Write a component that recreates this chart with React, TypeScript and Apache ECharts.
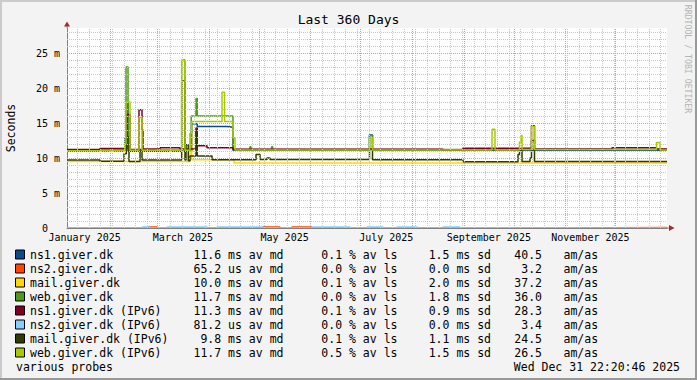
import React, { useEffect, useRef } from 'react';
import * as echarts from 'echarts';

// x values are days since 2025-01-01 00:00 (local), y values are milliseconds
const GRAPH_START = 4.93;
const GRAPH_END = 364.93;
const Y_MAX = 200 / 7;

const seriesNames = [
  'ns1.giver.dk', 'ns2.giver.dk', 'mail.giver.dk', 'web.giver.dk',
  'ns1.giver.dk (IPv6)', 'ns2.giver.dk (IPv6)', 'mail.giver.dk (IPv6)', 'web.giver.dk (IPv6)',
];
const seriesColors = ['#0c4a8c', '#ff4500', '#ffd700', '#4f9a1b', '#800024', '#87cefa', '#313d00', '#a8c800'];

const ns1Data = [
  [4.93, 10.95], [39.73, 12.9], [40.93, 17.9], [41.53, 10.95], [79.75, 14.9], [83.1, 14.5],
  [100.93, 14.4], [104.53, 11.1], [186.43, 13.3], [188.23, 11.1], [364.93, 11.1],
];
const ns2Data = [
  [4.93, 0], [53.5, 0.15], [58.9, 0], [122.5, 0.15], [132.7, 0], [139.9, 0.15], [151.9, 0],
  [298.0, 0.07], [364.93, 0.07],
];
const mailData = [
  [4.93, 9.5], [78.73, 13.5], [79.75, 9.75], [105.13, 9.3], [364.93, 9.35],
];
const webData = [
  [4.93, 11.15], [39.73, 12.5], [40.33, 23.0], [41.53, 11.15], [73.75, 24.0], [75.73, 11.15],
  [79.45, 16.0], [82.33, 18.5], [83.1, 16.0], [104.53, 11.2], [114.7, 11.6], [115.3, 11.2],
  [127.7, 11.6], [128.3, 11.2], [186.43, 13.2], [188.23, 11.2], [364.93, 11.2],
];
const ns1v6Data = [
  [4.93, 11.2], [24.73, 11.35], [40.93, 16.2], [42.73, 11.2], [48.13, 16.9], [49.93, 14.0],
  [50.53, 11.3], [60.73, 11.45], [72.73, 11.3], [82.33, 14.3], [83.1, 11.75], [88.93, 11.45],
  [104.53, 11.25], [230.53, 11.1], [242.53, 11.4], [283.63, 14.6], [285.43, 11.3],
  [331.93, 11.45], [358.63, 11.3], [364.93, 11.3],
];
const ns2v6Data = [
  [4.93, 0], [50.0, 0.15], [54.7, 0], [65.0, 0.15], [89.0, 0], [95.0, 0.15], [122.5, 0],
  [151.9, 0.15], [174.7, 0], [184.9, 0.15], [194.5, 0], [202.9, 0.15], [214.9, 0],
  [230.5, 0.15], [240.7, 0], [364.93, 0],
];
const mailv6Data = [
  [4.93, 9.72], [24.73, 9.52], [39.13, 10.6], [40.53, 13.0], [42.13, 9.5], [48.73, 11.2],
  [49.93, 9.72], [73.75, 21.0], [75.73, 9.72], [76.33, 11.9], [77.7, 9.6], [78.73, 10.3],
  [82.33, 14.0], [83.1, 10.3], [91.93, 9.75], [118.33, 10.5], [120.73, 9.8], [124.93, 10.0],
  [126.73, 9.8], [186.43, 11.3], [188.23, 9.75], [242.53, 9.45], [275.53, 10.5], [276.43, 11.2],
  [277.93, 9.5], [282.73, 10.0], [283.63, 12.5], [285.43, 9.5], [364.93, 9.5],
];
const webv6Data = [
  [4.93, 11.05], [39.73, 12.0], [40.33, 18.0], [42.73, 11.1], [48.13, 15.8], [49.93, 11.1],
  [73.75, 23.9], [75.73, 11.1], [78.73, 13.5], [79.75, 15.2], [97.93, 19.4], [99.43, 15.2],
  [104.53, 12.9], [105.73, 11.15], [186.43, 12.9], [188.23, 11.15], [259.93, 14.1], [261.73, 11.15],
  [276.43, 12.3], [277.33, 13.2], [277.93, 11.2], [283.63, 14.5], [285.43, 11.2], [358.63, 12.2],
  [360.73, 11.15], [364.93, 11.15],
];
const seriesData = [ns1Data, ns2Data, mailData, webData, ns1v6Data, ns2v6Data, mailv6Data, webv6Data];

// legend statistics
const statMedian = ['11.6 ms av md', '65.2 us av md', '10.0 ms av md', '11.7 ms av md', '11.3 ms av md', '81.2 us av md', '9.8 ms av md', '11.7 ms av md'];
const statLoss = ['0.1 % av ls', '0.0 % av ls', '0.1 % av ls', '0.0 % av ls', '0.1 % av ls', '0.0 % av ls', '0.1 % av ls', '0.5 % av ls'];
const statSd = ['1.5 ms sd', '0.0 ms sd', '2.0 ms sd', '1.8 ms sd', '0.9 ms sd', '0.0 ms sd', '1.1 ms sd', '1.5 ms sd'];
const statAmas = ['40.5', '3.2', '37.2', '36.0', '28.3', '3.4', '24.5', '26.5'];

// axes / grid
const monthStarts = [31, 59, 90, 120, 151, 181, 212, 243, 273, 304, 334];
const monthLabelValues = [15.5, 74.5, 135.5, 196.5, 258, 319];
const monthLabels = ['January 2025', 'March 2025', 'May 2025', 'July 2025', 'September 2025', 'November 2025'];
const firstSunday = 11;

const FONT = "'DejaVu Sans Mono', monospace";

export default function App() {
  const ref = useRef<HTMLDivElement>(null);
  useEffect(() => {
    const chart = echarts.init(ref.current!, null, { renderer: 'svg' });

    const weekLines: number[] = [];
    for (let d = firstSunday; d < GRAPH_END; d += 7) weekLines.push(d);
    const minorY: number[] = [];
    const majorY: number[] = [];
    for (let v = 1; v < Y_MAX; v++) (v % 5 === 0 ? majorY : minorY).push(v);

    const minorStyle = { color: '#c8c8c8', type: [1, 1], width: 1 };
    const majorStyle = { color: '#f09090', type: [1, 1], width: 1 };

    const gridSeries: any = {
      type: 'line', data: [], z: 1, silent: true,
      markLine: {
        silent: true, symbol: ['none', 'none'], label: { show: false }, animation: false,
        emphasis: { disabled: true },
        data: [
          ...weekLines.map((d) => ({ xAxis: d, lineStyle: minorStyle })),
          ...minorY.map((v) => ({ yAxis: v, lineStyle: minorStyle })),
          ...monthStarts.map((d) => ({ xAxis: d, lineStyle: majorStyle })),
          ...majorY.map((v) => ({ yAxis: v, lineStyle: majorStyle })),
        ],
      },
    };

    const dataSeries = seriesData.map((d, i) => ({
      type: 'line', name: seriesNames[i], data: d, step: 'end', symbol: 'none', showSymbol: false,
      lineStyle: { color: seriesColors[i], width: 1.5 }, itemStyle: { color: seriesColors[i] },
      z: 2, silent: true, animation: false,
    }));

    const graphic: any[] = [];
    // frame shading
    graphic.push({ type: 'rect', shape: { x: 0, y: 0, width: 697, height: 2 }, style: { fill: '#cbcbcb' } });
    graphic.push({ type: 'rect', shape: { x: 0, y: 0, width: 2, height: 380 }, style: { fill: '#cbcbcb' } });
    graphic.push({ type: 'rect', shape: { x: 0, y: 378, width: 697, height: 2 }, style: { fill: '#999999' } });
    graphic.push({ type: 'rect', shape: { x: 695, y: 0, width: 2, height: 380 }, style: { fill: '#999999' } });
    // axis arrows
    graphic.push({ type: 'line', shape: { x1: 67, y1: 28, x2: 67, y2: 25 }, style: { stroke: '#808080', lineWidth: 1 } });
    graphic.push({ type: 'polygon', shape: { points: [[64, 26.5], [70, 26.5], [67, 21.5]] }, style: { fill: '#a52a2a' } });
    graphic.push({ type: 'line', shape: { x1: 667, y1: 228, x2: 670, y2: 228 }, style: { stroke: '#808080', lineWidth: 1 } });
    graphic.push({ type: 'polygon', shape: { points: [[669, 225], [669, 231], [674.5, 228]] }, style: { fill: '#a52a2a' } });
    // title and side labels
    graphic.push({ type: 'text', x: 348.5, y: 19.5, style: { text: 'Last 360 Days', fontFamily: FONT, fontSize: 13, fill: '#000', align: 'center', verticalAlign: 'middle' } });
    graphic.push({ type: 'text', x: 10.5, y: 128, rotation: Math.PI / 2, style: { text: 'Seconds', fontFamily: FONT, fontSize: 11.5, fill: '#000', align: 'center', verticalAlign: 'middle' } });
    graphic.push({ type: 'text', x: 688, y: 59, rotation: -Math.PI / 2, style: { text: 'RRDTOOL / TOBI OETIKER', fontFamily: FONT, fontSize: 8.2, fill: '#b4b4b4', align: 'center', verticalAlign: 'middle' } });
    // legend
    seriesNames.forEach((name, i) => {
      const cy = 254.5 + 14 * i;
      graphic.push({ type: 'rect', shape: { x: 15.5, y: cy - 4.5, width: 9, height: 9 }, style: { fill: seriesColors[i], stroke: '#000', lineWidth: 1 } });
      const txt = (text: string, x: number, align: string) => ({
        type: 'text', x, y: cy, style: { text, fontFamily: FONT, fontSize: 11.5, fill: '#000', align, verticalAlign: 'middle' },
      });
      graphic.push(txt(name, 30, 'left'));
      graphic.push(txt(statMedian[i], 283.5, 'right'));
      graphic.push(txt(statLoss[i], 397.5, 'right'));
      graphic.push(txt(statSd[i], 491, 'right'));
      graphic.push(txt(statAmas[i], 542, 'right'));
      graphic.push(txt('am/as', 563.5, 'left'));
    });
    graphic.push({ type: 'text', x: 16, y: 366.5, style: { text: 'various probes', fontFamily: FONT, fontSize: 11.5, fill: '#000', align: 'left', verticalAlign: 'middle' } });
    graphic.push({ type: 'text', x: 680, y: 366.5, style: { text: 'Wed Dec 31 22:20:46 2025', fontFamily: FONT, fontSize: 11.5, fill: '#000', align: 'right', verticalAlign: 'middle' } });

    chart.setOption({
      animation: false,
      backgroundColor: '#f3f3f3',
      grid: { left: 67, top: 28, width: 600, height: 200, show: true, backgroundColor: '#ffffff', borderWidth: 0 },
      xAxis: {
        type: 'value', min: GRAPH_START, max: GRAPH_END, z: 3,
        axisLine: { show: true, onZero: false, lineStyle: { color: '#808080', width: 1 } },
        axisTick: { show: false },
        splitLine: { show: false },
        axisLabel: {
          customValues: monthLabelValues,
          formatter: (v: number) => {
            const i = monthLabelValues.findIndex((m) => Math.abs(m - v) < 1e-6);
            return i >= 0 ? monthLabels[i] : '';
          },
          fontFamily: FONT, fontSize: 10, color: '#000', margin: 4,
        },
      },
      yAxis: {
        type: 'value', min: 0, max: Y_MAX, interval: 5,
        axisLine: { show: true, onZero: false, lineStyle: { color: '#808080', width: 1 } },
        axisTick: { show: false },
        splitLine: { show: false },
        axisLabel: {
          showMaxLabel: false,
          formatter: (v: number) => (v === 0 ? '{z|0}' : `${v} m`),
          rich: { z: { padding: [0, 12, 0, 0], fontFamily: FONT, fontSize: 10, color: '#000' } },
          fontFamily: FONT, fontSize: 10, color: '#000', margin: 7,
        },
      },
      series: [gridSeries, ...dataSeries],
      graphic,
    });
    return () => chart.dispose();
  }, []);
  return <div ref={ref} style={{ position: 'fixed', left: 0, top: 0, width: 697, height: 380 }} />;
}
